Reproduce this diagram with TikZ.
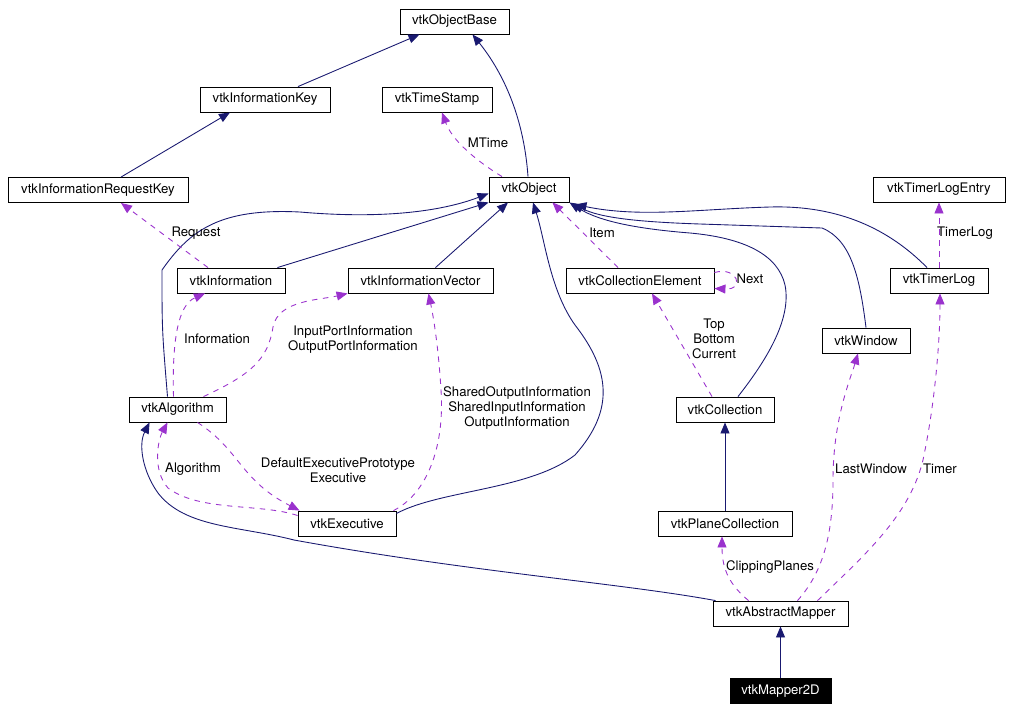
\documentclass[tikz,border=0pt]{standalone}
\usepackage{fontspec}
\setmainfont{TeX Gyre Heros}
\usetikzlibrary{arrows.meta, calc}
\definecolor{inhblue}{RGB}{25,25,112}
\definecolor{usepurple}{RGB}{154,50,205}

\begin{document}
\begin{tikzpicture}[x=0.02cm, y=-0.02cm, >={Triangle[length=2.2mm, width=1.8mm]},
    cls/.style={draw, line width=0.5pt, fill=white, minimum height=0.5cm, inner sep=0pt, font=\fontsize{7.5}{9}\selectfont},
    inh/.style={inhblue, line width=0.5pt, ->},
    uses/.style={usepurple, line width=0.5pt, dash pattern=on 1.1mm off 1.1mm, ->},
    lbl/.style={align=center, inner sep=0pt, font=\fontsize{7.5}{8.5}\selectfont}]

    \useasboundingbox (0,0) rectangle (1010,711);

    % class boxes
    \node[cls, minimum width=2.18cm] (objbase) at (454.5,21.5) {vtkObjectBase};
    \node[cls, minimum width=2.6cm] (infokey) at (265,99.5) {vtkInformationKey};
    \node[cls, minimum width=2.2cm] (timestamp) at (437,99.5) {vtkTimeStamp};
    \node[cls, minimum width=3.6cm] (reqkey) at (98,190) {vtkInformationRequestKey};
    \node[cls, minimum width=1.6cm] (object) at (529,189.5) {vtkObject};
    \node[cls, minimum width=2.64cm] (logentry) at (939,189.5) {vtkTimerLogEntry};
    \node[cls, minimum width=2.16cm] (information) at (231,280.5) {vtkInformation};
    \node[cls, minimum width=2.9cm] (infovector) at (420.5,280.5) {vtkInformationVector};
    \node[cls, minimum width=2.96cm] (collelem) at (640,280.5) {vtkCollectionElement};
    \node[cls, minimum width=1.96cm] (timerlog) at (939,280.5) {vtkTimerLog};
    \node[cls, minimum width=1.76cm] (window) at (866,340.5) {vtkWindow};
    \node[cls, minimum width=1.94cm] (algorithm) at (177.5,409.5) {vtkAlgorithm};
    \node[cls, minimum width=1.96cm] (collection) at (725,409.5) {vtkCollection};
    \node[cls, minimum width=1.96cm] (executive) at (347,523.5) {vtkExecutive};
    \node[cls, minimum width=2.68cm] (planecoll) at (725,523.5) {vtkPlaneCollection};
    \node[cls, minimum width=2.7cm] (absmapper) at (780.5,613.5) {vtkAbstractMapper};
    \node[cls, minimum width=2.02cm, fill=black, text=white] (mapper) at (780.5,691) {vtkMapper2D};

    % inheritance edges
    \draw[inh] ($(infokey.north)+(33,0)$) -- ($(objbase.south)+(-35,0)$);
    \draw[inh] ($(object.north)+(-1,0)$) .. controls (524,120) and (505,75) .. ($(objbase.south)+(18,0)$);
    \draw[inh] ($(reqkey.north)+(23,0)$) -- ($(infokey.south)+(-35,0)$);
    \draw[inh] ($(information.north east)+(-8,0)$) -- (object.south west);
    \draw[inh] ($(infovector.north)+(15,0)$) -- ($(object.south)+(-21,0)$);
    \draw[inh] ($(algorithm.north)+(-10,0)$) .. controls (162,330) .. (162,270)
        .. controls (190,230) and (220,208) .. (300,212)
        .. controls (380,219) and (440,212) .. ($(object.west)+(0,4)$);
    \draw[inh] ($(executive.east)+(0,-10)$) .. controls (440,490) and (530,490) .. (575,455)
        .. controls (615,410) and (610,370) .. (575,325)
        .. controls (550,290) and (545,240) .. ($(object.south)+(4,0)$);
    \draw[inh] ($(collection.north)+(13,0)$) .. controls (765,362) and (792,320) .. (785,285)
        .. controls (778,255) and (745,238) .. (690,233)
        .. controls (640,229) and (600,222) .. (object.south east);
    \draw[inh] (window.north) .. controls (860,280) and (852,240) .. (822,228) -- (700,224)
        .. controls (640,222) and (600,218) .. ($(object.south east)+(3,1)$);
    \draw[inh] ($(timerlog.north)+(-12,0)$) .. controls (890,230) and (840,205) .. (770,207)
        .. controls (700,209) and (640,218) .. ($(object.south east)+(6,2)$);
    \draw[inh] (planecoll.north) -- (collection.south);
    \draw[inh] (mapper.north) -- (absmapper.south);
    \draw[inh] ($(absmapper.north west)+(3,0)$) .. controls (620,583) and (470,572) .. (294,540)
        .. controls (240,526) and (185,528) .. (158,493)
        .. controls (143,472) and (138,445) .. ($(algorithm.south west)+(21,0)$);

    % usage edges
    \draw[uses] ($(object.north)+(-27,0)$) .. controls (475,160) and (452,140) .. ($(timestamp.south)+(5,0)$);
    \draw[uses] ($(information.north)+(-23,0)$) -- ($(reqkey.south)+(23,0)$);
    \draw[uses] ($(collelem.north)+(-22,0)$) -- ($(object.south east)+(-17,0)$);
    \draw[uses] (timerlog.north) -- (logentry.south);
    \draw[uses] ($(collelem.east)+(0,-8)$) .. controls (738,266) and (745,290) .. ($(collelem.east)+(0,8)$);
    \draw[uses] ($(collection.north)+(-13,0)$) -- ($(collelem.south)+(12,0)$);
    \draw[uses] ($(absmapper.north)+(-32,0)$) .. controls (730,585) and (722,570) .. ($(planecoll.south)+(-3,0)$);
    \draw[uses] ($(absmapper.north)+(17,0)$) .. controls (825,570) and (833,530) .. (833,480)
        .. controls (833,420) and (850,380) .. ($(window.south)+(-8,0)$);
    \draw[uses] ($(absmapper.north)+(37,0)$) .. controls (870,550) and (915,510) .. (925,450)
        .. controls (935,400) and (940,340) .. ($(timerlog.south)+(1,0)$);
    \draw[uses] ($(algorithm.north)+(-4,0)$) .. controls (172,340) and (178,305) .. ($(information.south)+(-26,0)$);
    \draw[uses] ($(algorithm.north)+(26,0)$) .. controls (250,375) and (268,360) .. (273,327)
        .. controls (278,300) and (320,300) .. (infovector.south west);
    \draw[uses] ($(executive.north east)+(-3,0)$) .. controls (425,495) and (445,450) .. (441,390)
        .. controls (438,340) and (432,310) .. ($(infovector.south)+(8,0)$);
    \draw[uses] ($(algorithm.south)+(20,0)$) .. controls (240,450) and (240,480) .. ($(executive.north west)+(2,0)$);
    \draw[uses] ($(executive.west)+(0,-8)$) .. controls (260,503) and (200,512) .. (168,488)
        .. controls (152,470) and (158,440) .. ($(algorithm.south)+(-10,0)$);

    % edge labels
    \node[lbl] (lmtime) at (488,143) {MTime};
    \node[lbl] (lrequest) at (196,233) {Request};
    \node[lbl] (litem) at (602,233) {Item};
    \node[lbl] (ltimerlog) at (965,233) {TimerLog};
    \node[lbl] (lnext) at (750,279) {Next};
    \node[lbl] (ltop) at (714,339) {Top\\Bottom\\Current};
    \node[lbl] (linfo) at (217,339) {Information};
    \node[lbl] (lports) at (353,340) {InputPortInformation\\OutputPortInformation};
    \node[lbl] (lshared) at (517,408) {SharedOutputInformation\\SharedInputInformation\\OutputInformation};
    \node[lbl] (ldefexec) at (338,470) {DefaultExecutivePrototype\\Executive};
    \node[lbl] (lalgo) at (193,469) {Algorithm};
    \node[lbl] (lclip) at (770,567) {ClippingPlanes};
    \node[lbl] (lwindow) at (871,469) {LastWindow};
    \node[lbl] (ltimer) at (940,469) {Timer};

\end{tikzpicture}
\end{document}
